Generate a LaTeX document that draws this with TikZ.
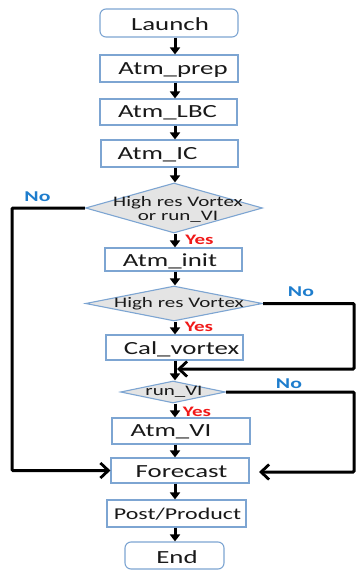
\documentclass[tikz,border=0pt]{standalone}
\usepackage{fontspec}
\setmainfont[FakeStretch=1.45]{Carlito}
\usetikzlibrary{arrows.meta,shapes.geometric}
\definecolor{boxblue}{RGB}{125,165,210}
\definecolor{decgray}{RGB}{228,228,228}
\definecolor{noblue}{RGB}{30,125,205}
\definecolor{yesred}{RGB}{240,25,25}
\definecolor{txt}{RGB}{25,25,25}
\begin{document}
\begin{tikzpicture}[x=1pt,y=-1pt,
  stepbox/.style={draw=boxblue,line width=1.1pt,fill=white,inner sep=0pt,minimum width=#1},
  stepbox/.default=138pt,
  termbox/.style={stepbox=#1,rounded corners=6pt},
  termbox/.default=138pt,
  decision/.style={diamond,draw=boxblue,line width=1.1pt,fill=decgray,inner sep=0pt},
  boxtext/.style={text=txt,font=\fontsize{18.5}{20}\selectfont,inner sep=0pt},
  dectext/.style={text=txt,font=\fontsize{14.5}{14}\selectfont,align=center,inner sep=0pt},
  yeslabel/.style={text=yesred,font=\fontsize{14.5}{15}\selectfont\bfseries,inner sep=0pt},
  nolabel/.style={text=noblue,font=\fontsize{15}{16}\selectfont\bfseries,inner sep=0pt},
  flow/.style={line width=3pt,-{Triangle[width=10pt,length=7pt]}},
  back/.style={line width=3pt,-{Straight Barb[length=8pt,width=15pt,line width=2.8pt]}}
]
\useasboundingbox (0,0) rectangle (357,571);

% main column and the outer return lines
\coordinate (col) at (175,0);
\coordinate (lfar) at (12,0);
\coordinate (rfar) at (354,0);

% process boxes
\node[termbox,minimum height=28pt] (launch) at (169,23) {};
\node[stepbox,minimum height=27pt] (prep) at (169,68.5) {};
\node[stepbox=137pt,minimum height=26pt] (lbc) at (168.5,112) {};
\node[stepbox=137pt,minimum height=27pt] (ic) at (169.5,153.5) {};
\node[decision,minimum width=177pt,minimum height=50pt] (d1) at (174,208) {};
\node[stepbox=137pt,minimum height=23pt] (init) at (173.5,259.5) {};
\node[decision,minimum width=177pt,minimum height=35pt] (d2) at (174,303.5) {};
\node[stepbox=137pt,minimum height=25pt] (cal) at (174.5,347.5) {};
\node[decision,minimum width=105pt,minimum height=22pt] (d3) at (173,392) {};
\node[stepbox,minimum height=26pt] (vi) at (181,431) {};
\node[stepbox,minimum height=25pt] (fc) at (180,470.5) {};
\node[stepbox=139pt,minimum height=27pt] (post) at (176.5,513.5) {};
\node[termbox=99pt,minimum height=27pt] (end) at (174.5,555.5) {};

% box texts
\node[boxtext] (launch-t) at (170,24) {Launch};
\node[boxtext] (prep-t) at (173,70) {Atm\_prep};
\node[boxtext] (lbc-t) at (167.5,113) {Atm\_LBC};
\node[boxtext] (ic-t) at (157.5,155) {Atm\_IC};
\node[dectext] (d1-t) at (178,209) {High res Vortex\\or run\_VI};
\node[boxtext] (init-t) at (170,261) {Atm\_init};
\node[dectext] (d2-t) at (179,304) {High res Vortex};
\node[boxtext] (cal-t) at (181.5,349) {Cal\_vortex};
\node[dectext] (d3-t) at (174,392) {run\_VI};
\node[boxtext] (vi-t) at (171,432) {Atm\_VI};
\node[boxtext] (fc-t) at (181.5,472) {Forecast};
\node[boxtext,font=\fontsize{16.5}{18}\selectfont] (post-t) at (177.5,514.5) {Post/Product};
\node[boxtext] (end-t) at (177,557) {End};

% branch labels
\node[yeslabel] (y1) at (199.5,240) {Yes};
\node[yeslabel] (y2) at (199,327) {Yes};
\node[yeslabel] (y3) at (197,412) {Yes};
\node[nolabel] (n1) at (37.5,197) {No};
\node[nolabel] (n2) at (301,292) {No};
\node[nolabel] (n3) at (289,384) {No};

% main flow
\draw[flow] (launch.south -| col) -- (prep.north -| col);
\draw[flow] (prep.south -| col) -- (lbc.north -| col);
\draw[flow] (lbc.south -| col) -- (ic.north -| col);
\draw[flow] (ic.south -| col) -- (d1.north -| col);
\draw[flow] (d1.south -| col) -- (init.north -| col);
\draw[flow] (init.south -| col) -- (d2.north -| col);
\draw[flow] (d2.south -| col) -- (cal.north -| col);
\draw[flow] (cal.south -| col) -- (d3.north -| col);
\draw[flow] (d3.south -| col) -- (vi.north -| col);
\draw[flow] (vi.south -| col) -- (fc.north -| col);
\draw[flow] (fc.south -| col) -- (post.north -| col);
\draw[flow] (post.south -| col) -- (end.north -| col);

% "No" branches
\coordinate (join) at (177,369);
\coordinate (fcin) at (259,472);
\draw[back,rounded corners=1pt] (d1.west) -- (d1.west -| lfar) -- (lfar |- fc.west) -- (fc.west);
\draw[back,rounded corners=1pt] (d2.east) -- (d2.east -| rfar) -- (rfar |- join) -- (join);
\draw[back,rounded corners=1pt] (d3.east) -- (d3.east -| rfar) -- (rfar |- fcin) -- (fcin);
\end{tikzpicture}
\end{document}
